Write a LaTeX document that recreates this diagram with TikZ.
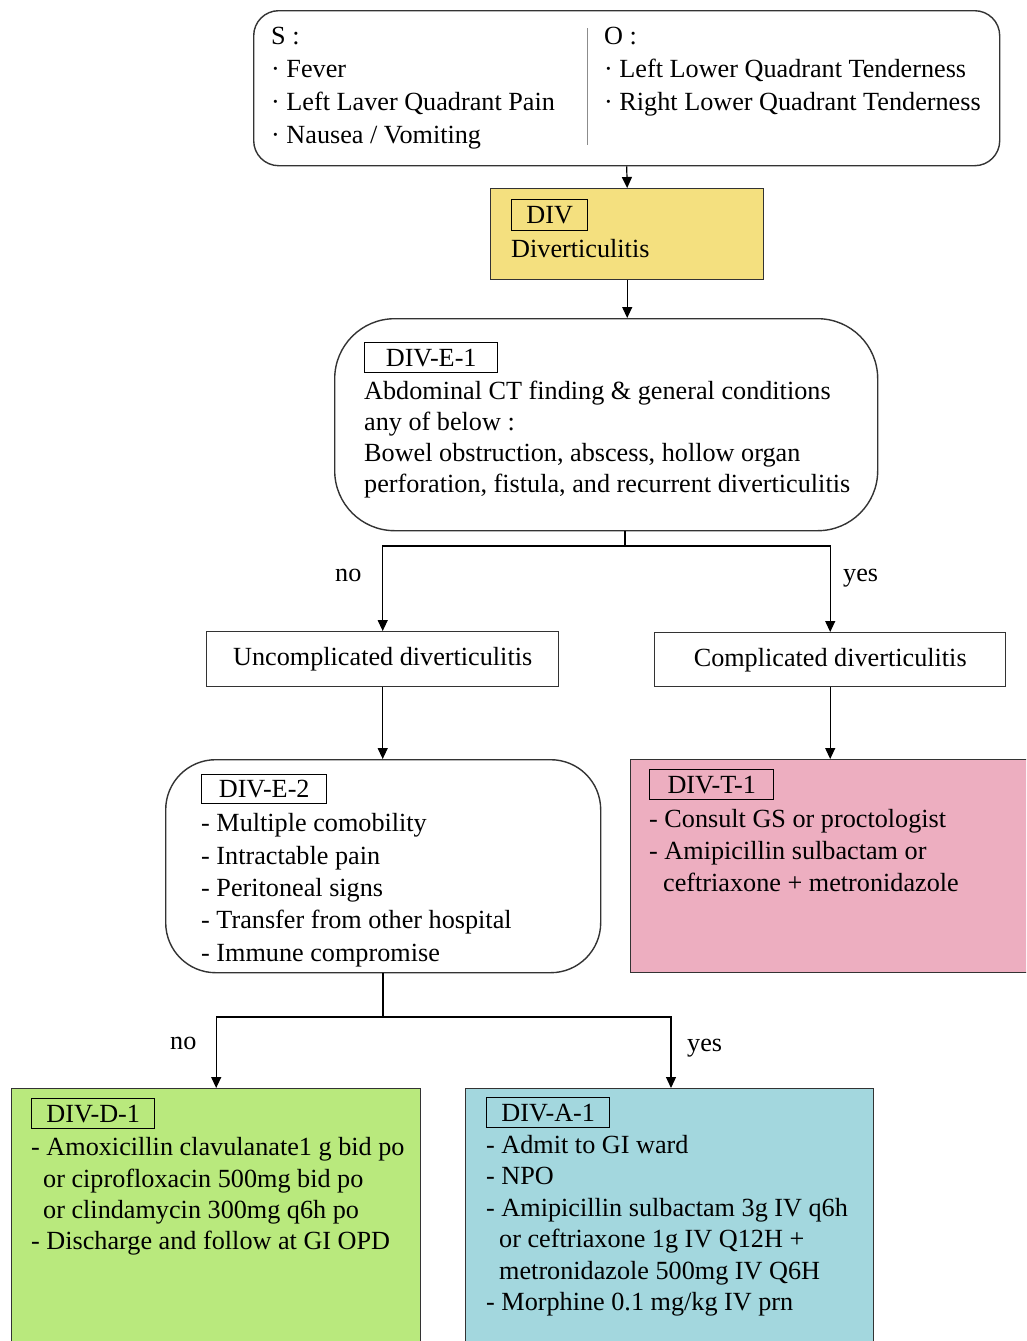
\documentclass[tikz,border=0pt]{standalone}
\usepackage{fontspec}
\setmainfont{Liberation Serif}
\usetikzlibrary{arrows.meta}
\definecolor{cyellow}{HTML}{F4E07F}
\definecolor{cpink}{HTML}{EDAEC0}
\definecolor{cgreen}{HTML}{B9E97D}
\definecolor{cblue}{HTML}{A3D7DE}
\begin{document}
\begin{tikzpicture}[x=1pt,y=-1pt,
  every node/.style={font=\fontsize{26.2}{32}\selectfont},
  ln/.style={anchor=base west, inner sep=0pt},
  bx/.style={draw=black!80, line width=1.4pt, anchor=north west, inner sep=0pt},
  tagbox/.style={draw=black, line width=1.4pt, anchor=north west, inner sep=0pt},
  arr/.style={line width=1.2pt, -{Triangle[length=11pt,width=10pt]}},
  con/.style={line width=1.2pt}]
\clip (0,0) rectangle (1026,1341);
\fill[white] (0,0) rectangle (1026,1341);

% top S/O box
\node[bx, rounded corners=25pt, minimum width=746pt, minimum height=155pt] (soap) at (253,10) {};
\draw[black!45, line width=1pt] (587,28) -- (587,145);
\node[ln] (s0) at (271,44) {S :};
\node[ln] (s1) at (271,77) {· Fever};
\node[ln] (s2) at (271,110) {· Left Laver Quadrant Pain};
\node[ln] (s3) at (271,143) {· Nausea / Vomiting};
\node[ln] (o0) at (604,44) {O :};
\node[ln] (o1) at (604,77) {· Left Lower Quadrant Tenderness};
\node[ln] (o2) at (604,110) {· Right Lower Quadrant Tenderness};

% DIV
\node[bx, fill=cyellow, minimum width=273pt, minimum height=91pt] (div) at (490,188) {};
\node[tagbox, minimum width=76pt, minimum height=31pt] (divtag) at (511,199) {DIV};
\node[ln] (divt) at (511,257) {Diverticulitis};

% DIV-E-1
\node[bx, rounded corners=60pt, minimum width=543pt, minimum height=212pt] (e1) at (334,318) {};
\node[tagbox, minimum width=133pt, minimum height=30pt] (e1tag) at (364,342) {DIV-E-1};
\node[ln] (e1a) at (364,399) {Abdominal CT finding \& general conditions};
\node[ln] (e1b) at (364,430) {any of below :};
\node[ln] (e1c) at (364,461) {Bowel obstruction, abscess, hollow organ};
\node[ln] (e1d) at (364,492) {perforation, fistula, and recurrent diverticulitis};

% uncomplicated / complicated
\node[bx, minimum width=352pt, minimum height=55pt] (unc) at (206,631) {};
\node (unct) at (unc.center) {Uncomplicated diverticulitis};
\node[bx, minimum width=351pt, minimum height=54pt] (comp) at (654,632) {};
\node (compt) at (comp.center) {Complicated diverticulitis};

% DIV-E-2
\node[bx, rounded corners=50pt, minimum width=435pt, minimum height=213pt] (e2) at (165,759) {};
\node[tagbox, minimum width=125pt, minimum height=29pt] (e2tag) at (201,774) {DIV-E-2};
\node[ln] (e2a) at (201,831) {- Multiple comobility};
\node[ln] (e2b) at (201,864) {- Intractable pain};
\node[ln] (e2c) at (201,896) {- Peritoneal signs};
\node[ln] (e2d) at (201,928) {- Transfer from other hospital};
\node[ln] (e2e) at (201,961) {- Immune compromise};

% DIV-T-1
\node[bx, fill=cpink, minimum width=400pt, minimum height=213pt] (t1) at (630,759) {};
\node[tagbox, minimum width=124pt, minimum height=30pt] (t1tag) at (649,769) {DIV-T-1};
\node[ln] (t1a) at (649,827) {- Consult GS or proctologist};
\node[ln] (t1b) at (649,859) {- Amipicillin sulbactam or};
\node[ln] (t1c) at (663,891) {ceftriaxone + metronidazole};

% DIV-D-1
\node[bx, fill=cgreen, minimum width=409pt, minimum height=260pt] (d1) at (11,1088) {};
\node[tagbox, minimum width=123pt, minimum height=30pt] (d1tag) at (31,1098) {DIV-D-1};
\node[ln] (d1a) at (31,1155) {- Amoxicillin clavulanate1 g bid po};
\node[ln] (d1b) at (43,1187) {or ciprofloxacin 500mg bid po};
\node[ln] (d1c) at (43,1218) {or clindamycin 300mg q6h po};
\node[ln] (d1d) at (31,1249) {- Discharge and follow at GI OPD};

% DIV-A-1
\node[bx, fill=cblue, minimum width=408pt, minimum height=260pt] (a1) at (465,1088) {};
\node[tagbox, minimum width=123pt, minimum height=30pt] (a1tag) at (486,1097) {DIV-A-1};
\node[ln] (a1a) at (486,1153) {- Admit to GI ward};
\node[ln] (a1b) at (486,1184) {- NPO};
\node[ln] (a1c) at (486,1216) {- Amipicillin sulbactam 3g IV q6h};
\node[ln] (a1d) at (499,1247) {or ceftriaxone 1g IV Q12H +};
\node[ln] (a1e) at (499,1279) {metronidazole 500mg IV Q6H};
\node[ln] (a1f) at (486,1310) {- Morphine 0.1 mg/kg IV prn};

% connectors
\draw[arr] (soap.south) -- (div.north);
\draw[arr] (div.south) -- (div.south |- e1.north);
\coordinate (j1) at (625,546);
\draw[con] (j1 |- e1.south) -- (j1);
\draw[arr] (j1) -| (unc.north);
\draw[arr] (j1) -| (comp.north);
\node[ln] (no1) at (335,581) {no};
\node[ln] (yes1) at (843,581) {yes};
\draw[arr] (unc.south) -- (unc.south |- e2.north);
\draw[arr] (comp.south) -- (comp.south |- t1.north);
\coordinate (j2) at (383,1017);
\draw[con] (j2 |- e2.south) -- (j2);
\draw[arr] (j2) -| (d1.north);
\coordinate (a1in) at (671,1088);
\draw[arr] (j2) -| (a1in);
\node[ln] (no2) at (170,1049) {no};
\node[ln] (yes2) at (687,1051) {yes};
\end{tikzpicture}
\end{document}
